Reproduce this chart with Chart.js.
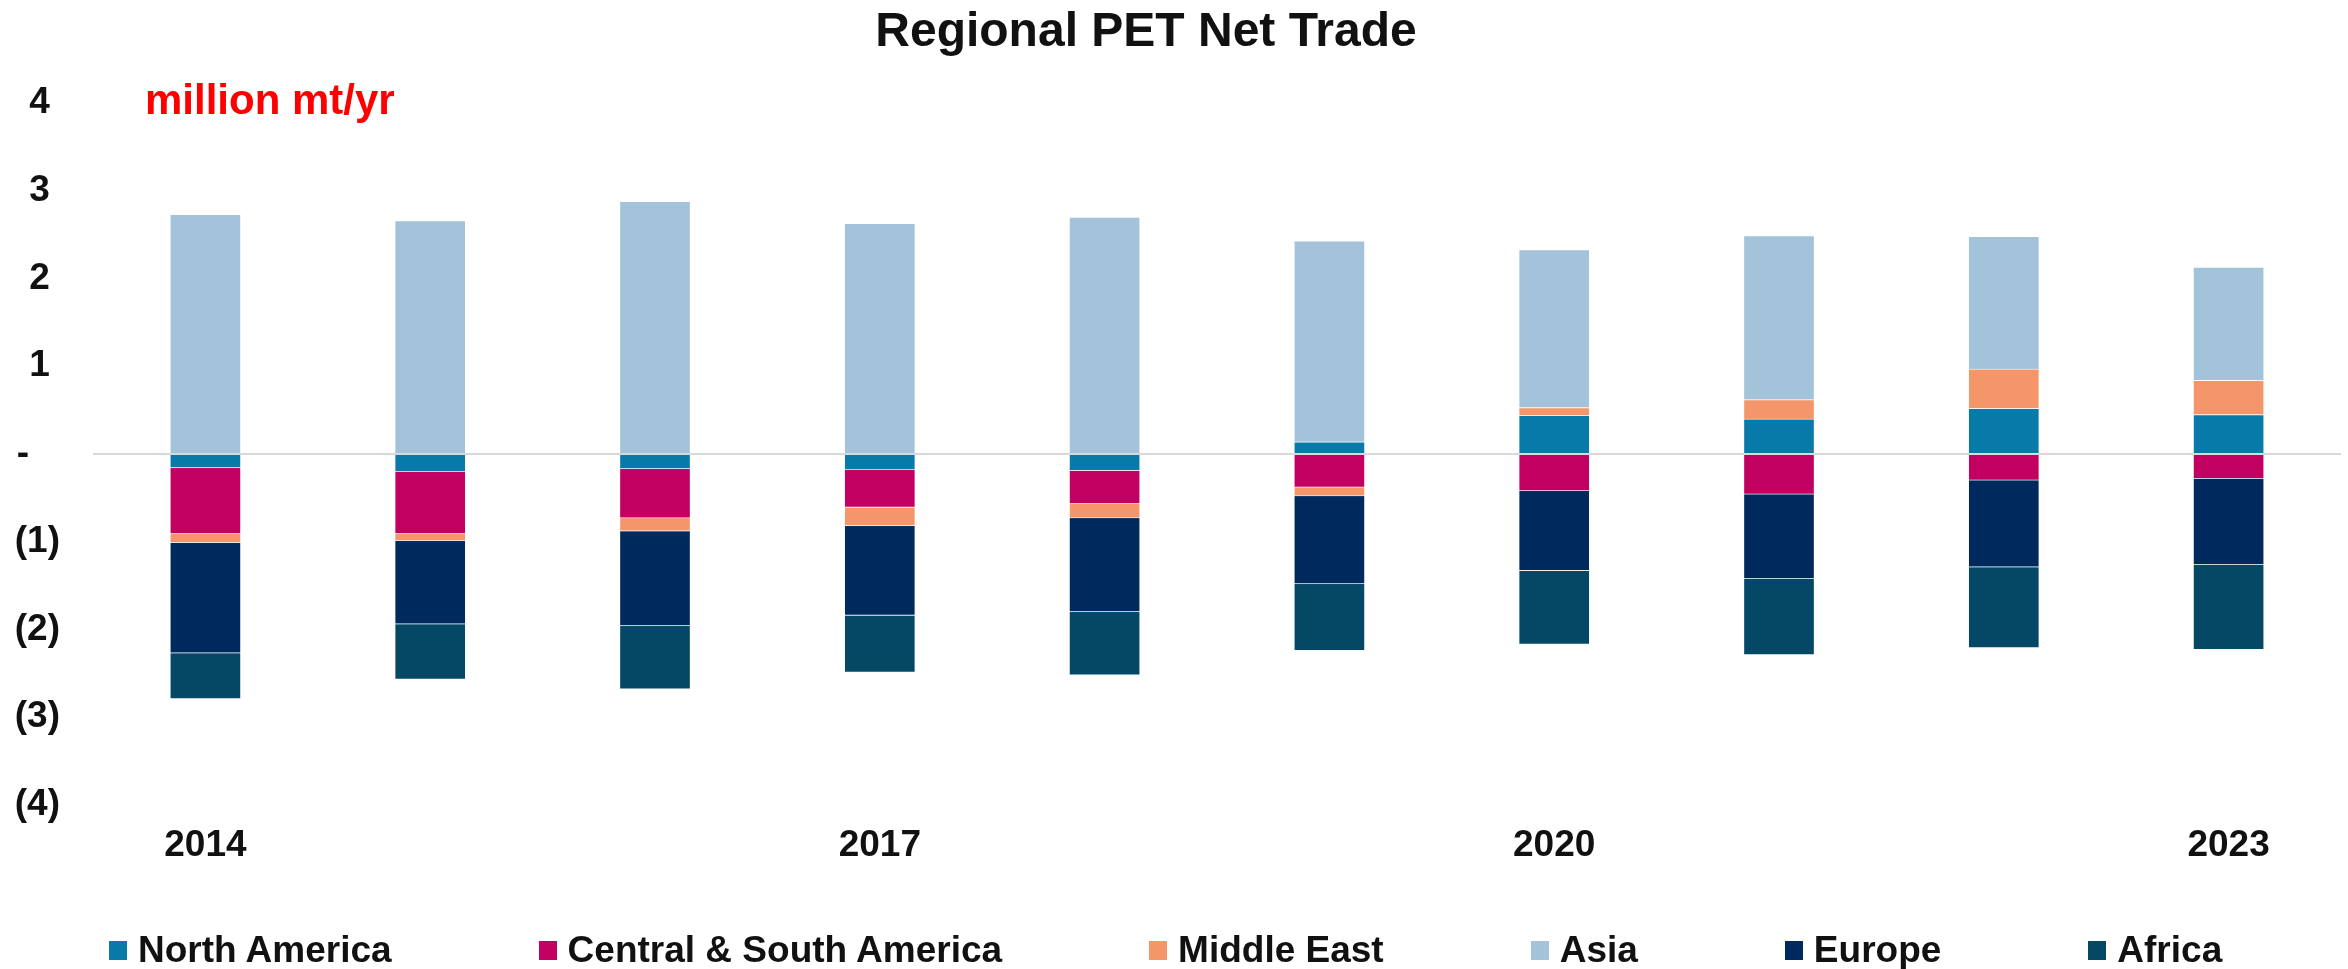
<!DOCTYPE html>
<html>
<head>
<meta charset="utf-8">
<title>Regional PET Net Trade</title>
<script src="https://cdn.jsdelivr.net/npm/chart.js@4.4.1/dist/chart.umd.min.js"></script>
<style>
  html, body { margin:0; padding:0; background:#fff; }
  #wrap { position:relative; width:2348px; height:969px; }
  #legend {
    position:absolute; left:109px; top:931px; height:38px;
    display:flex; align-items:center; gap:147px;
    font:bold 37px "Liberation Sans", Arial, sans-serif; color:#111; white-space:nowrap;
  }
  #legend .item { display:flex; align-items:center; gap:11px; }
  #legend .box { width:18px; height:19px; }
</style>
</head>
<body>
<div id="wrap">
  <canvas id="netTrade"></canvas>
  <div id="legend"></div>
</div>
<script>
// Netto-Handel je Region, Mio. t/Jahr (negativ = Nettoimport)
const years = ['2014','2015','2016','2017','2018','2019','2020','2021','2022','2023'];
const northAmerica        = [-0.16, -0.20, -0.17, -0.18, -0.19, 0.14, 0.44, 0.40, 0.52, 0.45];
const centralSouthAmerica = [-0.75, -0.71, -0.56, -0.43, -0.38, -0.38, -0.42, -0.46, -0.30, -0.28];
const middleEast          = [-0.10, -0.08, -0.15, -0.21, -0.16, -0.10, 0.09, 0.22, 0.45, 0.39];
const asia                = [2.73, 2.66, 2.88, 2.63, 2.70, 2.29, 1.80, 1.87, 1.51, 1.29];
const europe              = [-1.26, -0.95, -1.08, -1.02, -1.07, -1.00, -0.91, -0.96, -0.99, -0.98];
const africa              = [-0.52, -0.63, -0.72, -0.65, -0.72, -0.76, -0.84, -0.87, -0.92, -0.97];

const yTickValues = [-4, -3, -2, -1, 0, 1, 2, 3, 4];
const yTickLabels = ['(4)', '(3)', '(2)', '(1)', '-', '1', '2', '3', '4'];

const FONT = '"Liberation Sans", Arial, sans-serif';
const INK  = '#111';

const series = [
  { label:'North America',            data:northAmerica,        color:'#077AAA' },
  { label:'Central & South America',  data:centralSouthAmerica, color:'#C20062' },
  { label:'Middle East',              data:middleEast,          color:'#F5966A' },
  { label:'Asia',                     data:asia,                color:'#A2C3D9' },
  { label:'Europe',                   data:europe,              color:'#002A5E' },
  { label:'Africa',                   data:africa,              color:'#054866' }
];

// Titel + Einheit direkt auf den Canvas
const headings = {
  id:'headings',
  afterDraw(chart){
    const {ctx, chartArea, scales:{y}} = chart;
    ctx.save();
    ctx.fillStyle = INK;
    ctx.font = 'bold 48px ' + FONT;
    ctx.textAlign = 'center';
    ctx.textBaseline = 'alphabetic';
    ctx.fillText('Regional PET Net Trade', 1146, 46);
    ctx.fillStyle = '#FF0000';
    ctx.font = 'bold 42px ' + FONT;
    ctx.textAlign = 'left';
    ctx.fillText('million mt/yr', chartArea.left + 52, y.getPixelForValue(4) + 11);
    ctx.restore();
  }
};

Chart.defaults.font.family = FONT;
Chart.defaults.color = INK;

const chart = new Chart(document.getElementById('netTrade'), {
  type:'bar',
  data:{
    labels: years,
    datasets: series.map(s => ({
      label: s.label,
      data: s.data,
      backgroundColor: s.color,
      borderColor: 'rgba(255,255,255,0.35)',
      borderWidth: 1,
      barThickness: 71
    }))
  },
  options:{
    responsive:true,
    maintainAspectRatio:false,
    animation:false,
    devicePixelRatio:1,
    layout:{ padding:{ top:103, right:7, bottom:100, left:15 } },
    plugins:{
      legend:{ display:false },
      title:{ display:false },
      tooltip:{ enabled:false }
    },
    scales:{
      x:{
        stacked:true,
        afterFit: s => { s.height = 64; },
        grid:{ display:false, drawTicks:false },
        border:{ display:false },
        ticks:{
          autoSkip:false,
          maxRotation:0,
          padding:19,
          color:INK,
          font:{ size:37, weight:'bold' },
          callback:(v, i) => i % 3 === 0 ? years[i] : ''
        }
      },
      y:{
        stacked:true,
        min:-4, max:4,
        afterBuildTicks: s => { s.ticks = yTickValues.map(v => ({value:v})); },
        afterFit: s => { s.width = 78; },
        grid:{
          drawTicks:false,
          lineWidth:2,
          color: c => (c.tick && c.tick.value === 0) ? '#D9D9D9' : 'rgba(0,0,0,0)'
        },
        border:{ display:false },
        ticks:{
          padding:33,
          color:INK,
          font:{ size:37, weight:'bold' },
          // Buchhaltungsformat: positive Werte mit Platz für ")"
          callback: v => {
            const t = yTickLabels[yTickValues.indexOf(v)];
            if (v > 0) return t + ' ';
            if (v === 0) return t + '   ';
            return t;
          }
        }
      }
    }
  },
  plugins:[headings]
});

// Legende als HTML (gleichmäßige Abstände wie im Original)
const legendEl = document.getElementById('legend');
chart.data.datasets.forEach(ds => {
  const item = document.createElement('div');
  item.className = 'item';
  const box = document.createElement('span');
  box.className = 'box';
  box.style.background = ds.backgroundColor;
  const txt = document.createElement('span');
  txt.textContent = ds.label;
  item.appendChild(box);
  item.appendChild(txt);
  legendEl.appendChild(item);
});
</script>
</body>
</html>
